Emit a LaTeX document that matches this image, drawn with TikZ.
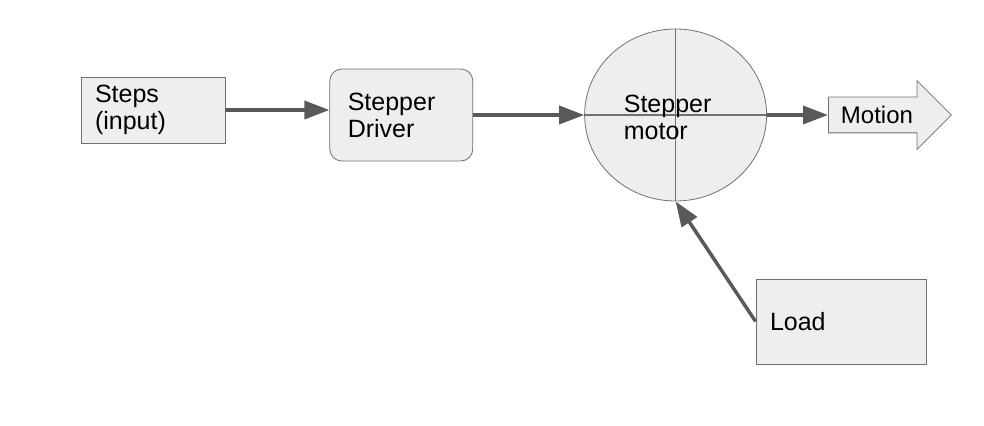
\documentclass[tikz,border=0pt]{standalone}
\usepackage{fontspec}
\setmainfont{Liberation Sans}
\usetikzlibrary{shapes, shapes.geometric, shapes.arrows, positioning, arrows.meta}
\definecolor{boxFill}{HTML}{EEEEEE}
\definecolor{drawColor}{HTML}{707070}
\definecolor{arrowColor}{HTML}{595959}
\tikzstyle{block}=[rectangle, draw=drawColor, fill=boxFill, align=left,
  font=\fontsize{12.5}{13.5}\selectfont]
\tikzstyle{arrow}=[-{Triangle[length=12.5pt,width=9pt]}, line width=1.75pt, draw=arrowColor]
\tikzstyle{cross}=[draw=drawColor, line width=0.6pt]

\begin{document}
\begin{tikzpicture}[x=0.5pt, y=-0.5pt]
      \useasboundingbox (0,0) rectangle (984,426);
      \node (steps) [block, inner xsep=7pt, text width=58pt, minimum height=33pt] at (153,110) {Steps\\(input)};
      \node (driver) [block, rounded corners=6pt, inner xsep=9pt, text width=53.5pt, minimum height=46pt,
        right=52pt of steps, yshift=-2.5pt] {Stepper\\Driver};
      \node (motor) [ellipse, draw=drawColor, fill=boxFill, inner sep=0pt, minimum width=91pt,
        minimum height=86pt, right=55.5pt of driver] {};
      \draw [cross] (motor.north) -- (motor.south);
      \draw [cross] (motor.west) -- (motor.east);
      \node (motorText) [align=left, font=\fontsize{12.5}{13.5}\selectfont, xshift=-4pt, yshift=-1pt] at (motor.center) {Stepper\\motor};
      \node (motion) [single arrow, draw=drawColor, fill=boxFill, single arrow head extend=8.25pt,
        single arrow tip angle=90, minimum height=61.5pt, text height=8.5pt, text depth=0pt,
        text width=40pt, align=left, inner ysep=4.5pt, inner xsep=1pt,
        font=\fontsize{12}{13}\selectfont, right=30.5pt of motor] {Motion};
      \node (load) [block, inner xsep=7pt, text width=71pt, minimum height=42.5pt] at (841,321.5) {Load};
      \draw [arrow] (steps.east) -- (steps.east -| driver.west);
      \draw [arrow] (driver.east) -- (motor.west);
      \draw [arrow] (motor.east) -- (motion.west);
      \draw [arrow] (load.west) -- (motor.south);
    \end{tikzpicture}
\end{document}
